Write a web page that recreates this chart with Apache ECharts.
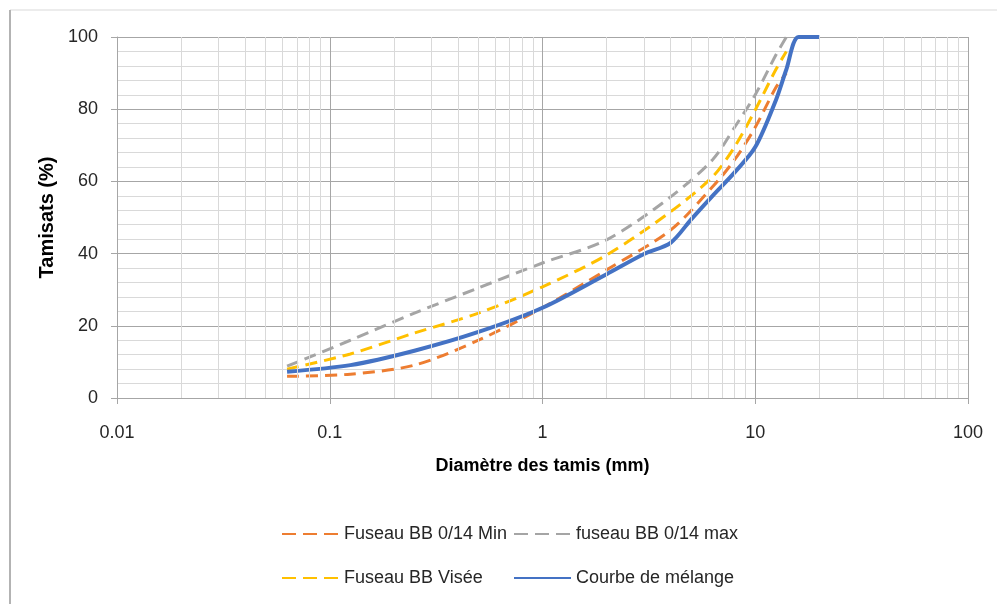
<!DOCTYPE html>
<html>
<head>
<meta charset="utf-8">
<script src="https://cdn.jsdelivr.net/npm/echarts@6/dist/echarts.min.js"></script>
<style>
  html, body { margin: 0; padding: 0; background: #fff; }
  #main { width: 997px; height: 604px; }
</style>
</head>
<body>
<div id="main"></div>
<script>
// courbe granulométrique
var seriesNames = ['Fuseau BB 0/14 Min', 'fuseau BB 0/14 max', 'Fuseau BB Visée', 'Courbe de mélange'];

var tamisFuseau = [0.063, 0.125, 0.25, 0.5, 1, 2, 4, 6.3, 8, 10, 12.5, 14];
var fuseauMin   = [6, 6.6, 9.1, 16, 25, 35.5, 46.5, 58.5, 66, 75, 86, 90];
var fuseauMax   = [8.8, 16, 23.5, 30.5, 37.4, 43.8, 55.7, 66, 75, 84, 95, 100];
var fuseauVisee = [8, 12.2, 18, 23.5, 30.8, 39.6, 51.6, 61.3, 69.6, 79.8, 91, 96];

var tamisMelange = [0.063, 0.125, 0.25, 0.5, 1, 2, 3, 4, 5, 6.3, 8, 10, 12.5, 14, 16, 20];
var melange      = [7.3, 9.1, 13.1, 18.3, 25, 34.3, 39.9, 43, 49.5, 56, 62.5, 69.5, 82.5, 91, 100, 100];

// graduations de l'axe log
var decades = [0.01, 0.1, 1, 10];
var minorSteps = [2, 3, 4, 5, 6, 7, 8, 9];
var xTickLabels = ['0.01', '0.1', '1', '10', '100'];

function pairs(xs, ys) {
    return xs.map(function (x, i) { return [x, ys[i]]; });
}

var minorLines = [];
decades.forEach(function (d) {
    minorSteps.forEach(function (s) { minorLines.push({ xAxis: +(d * s).toPrecision(3) }); });
});

var font = 'Liberation Sans';
var colors = ['#ED7D31', '#A5A5A5', '#FFC000', '#4472C4'];

var chart = echarts.init(document.getElementById('main'));

function dashed(name, color, data) {
    return {
        name: name,
        type: 'line',
        data: data,
        smooth: 0.3,
        symbol: 'none',
        z: 3,
        lineStyle: { color: color, width: 3, type: [12, 7] },
        itemStyle: { color: color }
    };
}

// icône de légende en tirets
function legendItem(name, isDashed) {
    return isDashed ? { name: name, lineStyle: { type: [14, 7] } } : { name: name };
}

var legendStyle = {
    orient: 'vertical',
    top: 519,
    itemWidth: 57,
    itemHeight: 14,
    itemGap: 24,
    itemStyle: { opacity: 0 },
    textStyle: { fontFamily: font, fontSize: 18, color: '#262626', lineHeight: 20 }
};

var option = {
    animation: false,
    backgroundColor: '#fff',
    grid: { left: 117, right: 29, top: 37, bottom: 206 },
    xAxis: {
        type: 'log',
        logBase: 10,
        min: 0.01,
        max: 100,
        name: 'Diamètre des tamis (mm)',
        nameLocation: 'middle',
        nameGap: 59,
        nameTextStyle: { fontFamily: font, fontSize: 18, fontWeight: 'bold', color: '#000' },
        axisLine: { show: true, lineStyle: { color: '#a6a6a6', width: 1 } },
        axisTick: { show: true, length: 6, lineStyle: { color: '#a6a6a6' } },
        axisLabel: {
            margin: 26,
            fontFamily: font, fontSize: 18, color: '#262626',
            formatter: function (v) {
                var i = Math.round(Math.log10(v)) + 2;
                return xTickLabels[i];
            }
        },
        splitLine: { show: true, lineStyle: { color: '#a6a6a6', width: 1 } }
    },
    yAxis: {
        type: 'value',
        min: 0,
        max: 100,
        interval: 20,
        name: 'Tamisats (%)',
        nameLocation: 'middle',
        nameGap: 57,
        nameTextStyle: { fontFamily: font, fontSize: 20, fontWeight: 'bold', color: '#000' },
        axisLine: { show: true, lineStyle: { color: '#a6a6a6', width: 1 } },
        axisTick: { show: true, length: 6, lineStyle: { color: '#a6a6a6' } },
        axisLabel: { margin: 19, fontFamily: font, fontSize: 18, color: '#262626' },
        splitLine: { show: true, lineStyle: { color: '#a6a6a6', width: 1 } },
        minorTick: { show: false, splitNumber: 5 },
        minorSplitLine: { show: true, lineStyle: { color: '#d9d9d9', width: 1 } }
    },
    legend: [
        Object.assign({ left: 276, data: [legendItem(seriesNames[0], true), legendItem(seriesNames[2], true)] }, legendStyle),
        Object.assign({ left: 508, data: [legendItem(seriesNames[1], true), legendItem(seriesNames[3], false)] }, legendStyle)
    ],
    graphic: [
        { type: 'line', shape: { x1: 10, y1: 10, x2: 997, y2: 10 }, style: { stroke: '#e6e6e6', lineWidth: 1.5 } },
        { type: 'line', shape: { x1: 10, y1: 10, x2: 10, y2: 604 }, style: { stroke: '#b3b3b3', lineWidth: 2 } }
    ],
    series: [
        {
            name: 'grille',
            type: 'line',
            data: [],
            silent: true,
            z: 1,
            markLine: {
                silent: true,
                symbol: ['none', 'none'],
                label: { show: false },
                animation: false,
                lineStyle: { color: '#d9d9d9', width: 1, type: 'solid' },
                data: minorLines
            }
        },
        dashed(seriesNames[0], colors[0], pairs(tamisFuseau, fuseauMin)),
        dashed(seriesNames[1], colors[1], pairs(tamisFuseau, fuseauMax)),
        dashed(seriesNames[2], colors[2], pairs(tamisFuseau, fuseauVisee)),
        {
            name: seriesNames[3],
            type: 'line',
            data: pairs(tamisMelange, melange),
            smooth: 0.3,
            symbol: 'none',
            z: 4,
            lineStyle: { color: colors[3], width: 4 },
            itemStyle: { color: colors[3] }
        }
    ]
};

chart.setOption(option);
</script>
</body>
</html>
